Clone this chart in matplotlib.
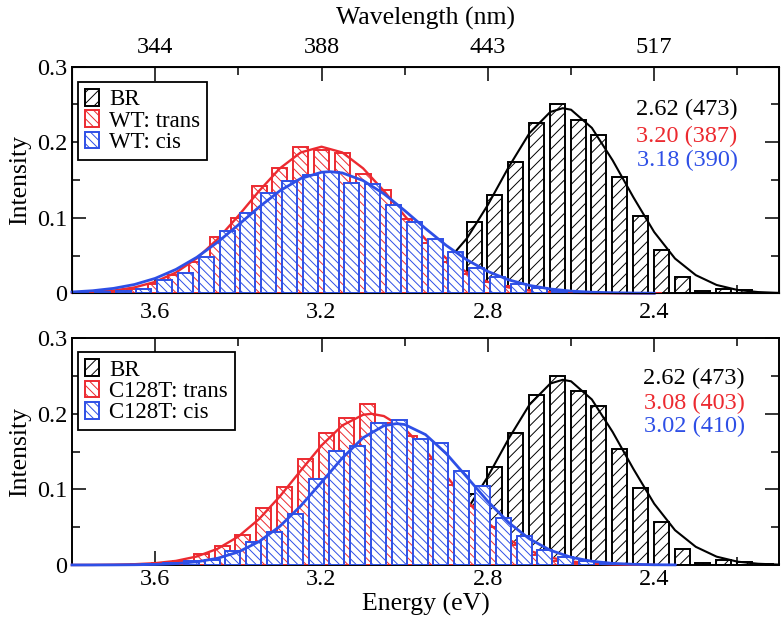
import matplotlib.pyplot as plt
from matplotlib.patches import Patch
from matplotlib.ticker import FixedLocator, FuncFormatter

plt.rcParams['font.family'] = ['Liberation Serif', 'DejaVu Serif']
plt.rcParams['hatch.linewidth'] = 0.7

RED = '#ec2a30'
BLUE = '#2e4fe6'

# -- BR histogram + fit (same in both panels) --
br_e = [2.833, 2.783, 2.733, 2.683, 2.633, 2.583, 2.533, 2.483, 2.433, 2.383,
        2.333, 2.283, 2.233, 2.183, 2.133]
br_h = [0.094, 0.130, 0.174, 0.225, 0.250, 0.230, 0.210, 0.154, 0.102, 0.057,
        0.021, 0.003, 0.006, 0.004, 0.001]
br_fit_e = [2.90, 2.85, 2.80, 2.75, 2.70, 2.65, 2.62, 2.60, 2.55, 2.50, 2.45,
            2.40, 2.35, 2.30, 2.25, 2.20, 2.15, 2.10]
br_fit_h = [0.041, 0.073, 0.117, 0.167, 0.212, 0.240, 0.245, 0.243, 0.219,
            0.176, 0.127, 0.081, 0.046, 0.024, 0.011, 0.0044, 0.0016, 0.0005]

# -- WT trans --
wt_t_e = [3.75, 3.70, 3.65, 3.60, 3.55, 3.50, 3.45, 3.40, 3.35, 3.30, 3.25,
          3.20, 3.15, 3.10, 3.05, 3.00, 2.95, 2.90, 2.85, 2.80, 2.75, 2.70,
          2.65, 2.60, 2.55, 2.50, 2.45, 2.40]
wt_t_h = [0.001, 0.003, 0.006, 0.012, 0.024, 0.042, 0.075, 0.100, 0.142, 0.166,
          0.194, 0.190, 0.186, 0.158, 0.137, 0.098, 0.066, 0.042, 0.026, 0.015,
          0.009, 0.004, 0.002, 0.001, 0.0, 0.0, 0.0, 0.0]
wt_t_fit_e = [3.80, 3.75, 3.70, 3.65, 3.60, 3.55, 3.50, 3.45, 3.40, 3.35, 3.30,
              3.25, 3.20, 3.15, 3.10, 3.05, 3.00, 2.95, 2.90, 2.85, 2.80, 2.75,
              2.70, 2.65, 2.60, 2.55, 2.50, 2.45, 2.40]
wt_t_fit_h = [0.0006, 0.0016, 0.0036, 0.0077, 0.0151, 0.0275, 0.0462, 0.0716,
              0.1025, 0.1355, 0.1654, 0.1864, 0.1940, 0.1864, 0.1654, 0.1355,
              0.1025, 0.0716, 0.0462, 0.0275, 0.0151, 0.0077, 0.0036, 0.0016,
              0.0006, 0.0002, 0.0001, 0.0, 0.0]

# -- WT cis --
wt_c_e = [3.777, 3.727, 3.677, 3.627, 3.577, 3.527, 3.477, 3.427, 3.377, 3.327,
          3.277, 3.227, 3.177, 3.127, 3.077, 3.027, 2.977, 2.927, 2.877, 2.827,
          2.777, 2.727, 2.677, 2.627, 2.577, 2.527, 2.477]
wt_c_h = [0.001, 0.002, 0.003, 0.006, 0.018, 0.027, 0.048, 0.082, 0.106, 0.133,
          0.148, 0.157, 0.161, 0.146, 0.145, 0.117, 0.095, 0.072, 0.054, 0.034,
          0.021, 0.012, 0.007, 0.003, 0.001, 0.0, 0.0]
wt_c_fit_e = [3.80, 3.75, 3.70, 3.65, 3.60, 3.55, 3.50, 3.45, 3.40, 3.35, 3.30,
              3.25, 3.20, 3.18, 3.15, 3.10, 3.05, 3.00, 2.95, 2.90, 2.85, 2.80,
              2.75, 2.70, 2.65, 2.60, 2.55, 2.50, 2.45, 2.40]
wt_c_fit_h = [0.0017, 0.0034, 0.0065, 0.0116, 0.0197, 0.0316, 0.0476, 0.0676,
              0.0905, 0.1142, 0.1357, 0.1519, 0.1602, 0.1610, 0.1593, 0.1492,
              0.1317, 0.1095, 0.0858, 0.0633, 0.0441, 0.0289, 0.0178, 0.0104,
              0.0057, 0.0029, 0.0014, 0.0007, 0.0003, 0.0001]

# -- C128T trans --
c1_t_e = [3.689, 3.639, 3.589, 3.539, 3.489, 3.439, 3.389, 3.339, 3.289, 3.239,
          3.189, 3.139, 3.089, 3.039, 2.989, 2.939, 2.889, 2.839, 2.789, 2.739,
          2.689, 2.639, 2.589, 2.539, 2.489, 2.439, 2.389]
c1_t_h = [0.0, 0.001, 0.002, 0.005, 0.014, 0.025, 0.040, 0.076, 0.103, 0.140,
          0.175, 0.194, 0.213, 0.188, 0.170, 0.140, 0.106, 0.078, 0.050, 0.026,
          0.013, 0.005, 0.002, 0.001, 0.0, 0.0, 0.0]
c1_t_fit_e = [3.80, 3.75, 3.70, 3.65, 3.60, 3.55, 3.50, 3.45, 3.40, 3.35, 3.30,
              3.25, 3.20, 3.15, 3.10, 3.08, 3.05, 3.00, 2.95, 2.90, 2.85, 2.80,
              2.75, 2.70, 2.65, 2.60, 2.55, 2.50, 2.45, 2.40]
c1_t_fit_h = [0.0, 0.0001, 0.0004, 0.0010, 0.0024, 0.0054, 0.0112, 0.0214,
              0.0376, 0.0608, 0.0908, 0.1248, 0.1581, 0.1846, 0.1987, 0.2000,
              0.1970, 0.1802, 0.1518, 0.1178, 0.0843, 0.0556, 0.0338, 0.0189,
              0.0098, 0.0046, 0.0020, 0.0008, 0.0003, 0.0001]

# -- C128T cis --
c1_c_e = [3.663, 3.613, 3.563, 3.513, 3.463, 3.413, 3.363, 3.313, 3.263, 3.213,
          3.163, 3.113, 3.063, 3.013, 2.963, 2.913, 2.863, 2.813, 2.763, 2.713,
          2.663, 2.613, 2.563, 2.513, 2.463, 2.413, 2.363]
c1_c_h = [0.0, 0.001, 0.003, 0.005, 0.007, 0.018, 0.031, 0.044, 0.068, 0.114,
          0.151, 0.158, 0.188, 0.192, 0.166, 0.161, 0.124, 0.104, 0.062, 0.038,
          0.020, 0.011, 0.005, 0.002, 0.0, 0.0, 0.0]
c1_c_fit_e = [3.80, 3.75, 3.70, 3.65, 3.60, 3.55, 3.50, 3.45, 3.40, 3.35, 3.30,
              3.25, 3.20, 3.15, 3.10, 3.05, 3.02, 3.00, 2.95, 2.90, 2.85, 2.80,
              2.75, 2.70, 2.65, 2.60, 2.55, 2.50, 2.45, 2.40, 2.35]
c1_c_fit_h = [0.0, 0.0, 0.0001, 0.0003, 0.0007, 0.0018, 0.0042, 0.0088, 0.0172,
              0.0310, 0.0512, 0.0781, 0.1095, 0.1415, 0.1683, 0.1842, 0.1870,
              0.1858, 0.1725, 0.1474, 0.1160, 0.0841, 0.0561, 0.0345, 0.0195,
              0.0102, 0.0049, 0.0021, 0.0009, 0.0003, 0.0001]

# ticks
e_major = [3.6, 3.2, 2.8, 2.4]
e_minor = [3.4, 3.0, 2.6, 2.2]
wl_labels = ['344', '388', '443', '517']
y_major = [0.0, 0.1, 0.2, 0.3]
y_minor = [0.05, 0.15, 0.25]

top_notes = ['2.62 (473)', '3.20 (387)', '3.18 (390)']
bot_notes = ['2.62 (473)', '3.08 (403)', '3.02 (410)']

BAR_W = 0.036
FS = 17.5


def draw_panel(ax, series, labels, notes, note_x, note_y, leg_y):
    for (be, bh, fe, fh, col, hatch, lw, z) in series:
        ax.bar(be, bh, width=BAR_W, facecolor='white', edgecolor=col,
               hatch=hatch, linewidth=1.4, zorder=z)
        ax.plot(fe, fh, color=col, lw=lw, zorder=z + 0.5, clip_on=False)

    ax.set_xlim(3.8, 2.1)
    ax.set_ylim(0, 0.3)
    ax.xaxis.set_major_locator(FixedLocator(e_major))
    ax.xaxis.set_minor_locator(FixedLocator(e_minor))
    ax.yaxis.set_major_locator(FixedLocator(y_major))
    ax.yaxis.set_minor_locator(FixedLocator(y_minor))
    ax.yaxis.set_major_formatter(FuncFormatter(
        lambda v, p: '0' if abs(v) < 1e-9 else '%.1f' % v))
    ax.tick_params(which='both', direction='in', right=True, labelsize=FS,
                   width=1.1)
    ax.tick_params(which='major', length=10)
    ax.tick_params(which='minor', length=6)
    for s in ax.spines.values():
        s.set_linewidth(1.4)
    ax.set_ylabel('Intensity', fontsize=18.5, labelpad=4)

    cols = ['black', RED, BLUE]
    hatches = ['///', '\\\\\\\\', '\\\\\\\\']
    handles = [Patch(facecolor='white', edgecolor=c, hatch=h, linewidth=1.4)
               for c, h in zip(cols, hatches)]
    leg = ax.legend(handles, labels, loc='upper left',
                    bbox_to_anchor=(0.0085, leg_y), borderaxespad=0,
                    fontsize=16.5, handlelength=0.6, handleheight=0.75,
                    handletextpad=0.45, labelspacing=0.0, borderpad=0.3,
                    fancybox=False, framealpha=1, edgecolor='black')
    leg.get_frame().set_linewidth(1.3)
    leg.set_zorder(10)

    for txt, c, y in zip(notes, cols, note_y):
        ax.text(note_x, y, txt, color=c, fontsize=FS, ha='center',
                va='center', transform=ax.transAxes, zorder=11)


fig = plt.figure(figsize=(7.84, 6.24), dpi=100)
ax1 = fig.add_axes([0.0918, 0.530, 0.9018, 0.3632])
ax2 = fig.add_axes([0.0918, 0.0946, 0.9018, 0.3634])

# 1) WT
draw_panel(ax1,
           [(br_e, br_h, br_fit_e, br_fit_h, 'black', '///', 1.5, 2),
            (wt_t_e, wt_t_h, wt_t_fit_e, wt_t_fit_h, RED, '\\\\\\\\', 1.7, 3),
            (wt_c_e, wt_c_h, wt_c_fit_e, wt_c_fit_h, BLUE, '\\\\\\\\', 2.0, 4)],
           ['BR', 'WT: trans', 'WT: cis'], top_notes,
           0.870, [0.809, 0.690, 0.588], 0.932)
ax1.tick_params(axis='x', which='both', top=False, pad=6)

axt = ax1.twiny()
axt.set_xlim(ax1.get_xlim())
axt.xaxis.set_major_locator(FixedLocator(e_major))
axt.xaxis.set_minor_locator(FixedLocator(e_minor))
axt.set_xticklabels(wl_labels)
axt.tick_params(which='both', direction='in', labelsize=FS, width=1.1, pad=6)
axt.tick_params(which='major', length=10)
axt.tick_params(which='minor', length=6)
axt.set_xlabel('Wavelength (nm)', fontsize=18.5, labelpad=9)

# 2) C128T
draw_panel(ax2,
           [(br_e, br_h, br_fit_e, br_fit_h, 'black', '///', 1.5, 2),
            (c1_t_e, c1_t_h, c1_t_fit_e, c1_t_fit_h, RED, '\\\\\\\\', 1.7, 3),
            (c1_c_e, c1_c_h, c1_c_fit_e, c1_c_fit_h, BLUE, '\\\\\\\\', 2.0, 4)],
           ['BR', 'C128T: trans', 'C128T: cis'], bot_notes,
           0.880, [0.824, 0.713, 0.609], 0.938)
ax2.tick_params(axis='x', which='both', top=True, pad=3)
ax2.set_xlabel('Energy (eV)', fontsize=18.5, labelpad=2)

plt.savefig('out.png', dpi=100)
